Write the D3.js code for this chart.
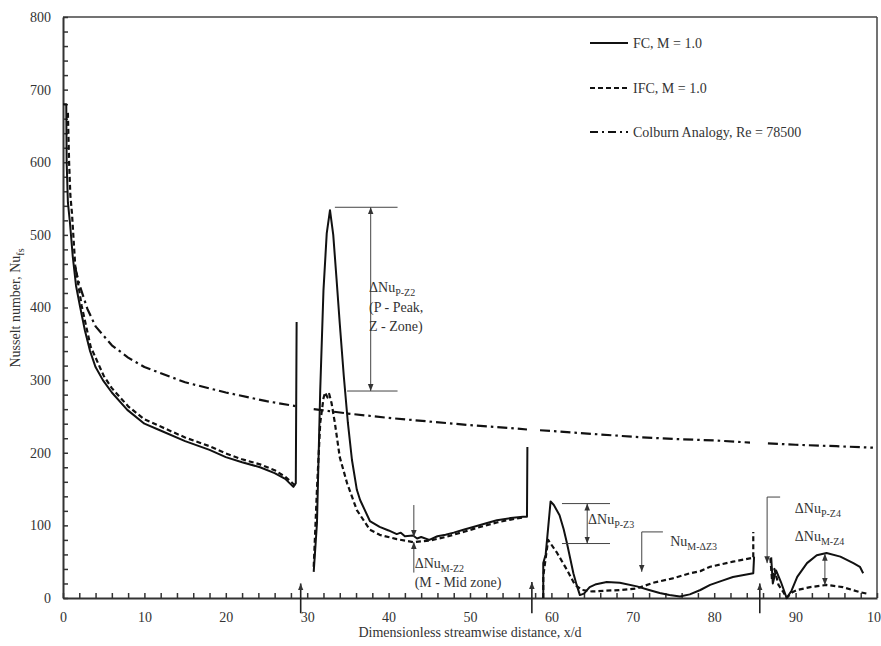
<!DOCTYPE html>
<html><head><meta charset="utf-8">
<script src="https://cdn.jsdelivr.net/npm/d3@7"></script>
<style>
body{margin:0;background:#fff}
svg{display:block}
text{font-family:"Liberation Serif","Times New Roman",serif;fill:#333}
</style>
</head><body>
<svg id="c" width="881" height="646" font-family="Liberation Serif"></svg>
<script>
// ---- data (x/d, Nu) ; null = gap between zones ----
const fcX = [0,0.4,0.45,0.6,0.86,1.2,1.6,2.1,2.7,3.3,4.0,4.9,6,7.9,10,11.9,15,18,20,22,24.2,26,27.3,28.3,28.6,28.7,
  null,
  30.8,31.2,31.6,32.0,32.4,32.8,33.2,33.6,34.0,34.5,35,35.5,36.1,36.5,37.7,38.9,40,41,41.5,42,43,43.5,44,45,46,47,48,49.2,50.5,52,53.3,55,56.5,57,57.05,
  null,
  59,59,59.3,59.9,60.3,61,61.5,61.9,62.3,62.7,63.1,63.5,64,64.7,65.5,66.8,68.4,70.5,72,73.3,74.5,75.8,77,78.3,79.5,81,82.3,84.8,84.9,
  null,
  87,87.2,87.6,88.2,88.9,89.5,90.2,91.4,92.6,93.8,95.5,97.1,97.9,98.3];
const fcY = [680,680,600,545,516,470,430,401,368,341,318,300,283,259,240,231,216,204,194,187,180,172,164,153,158,380,
  null,
  36,103,286,424,502,534,500,440,378,305,241,190,149,135,106,98,93,88,90,85,86,82,84,80,85,87,90,94,98,103,107,110,112,112,208,
  null,
  0,48,60,133,128,114,95,76,55,34,18,4,6,15,19,22,21,16,11,7,4,2,5,11,18,24,29,34,57,
  null,
  56,20,38,22,0,10,29,48,59,62,57,48,43,34];

const ifcX = [0.6,0.75,0.9,1.1,1.5,2.3,3.4,5,6,8,10,12,15,18,20,22,24.2,26,27.3,28.3,28.7,
  null,
  30.8,31.2,31.6,32.0,32.2,32.5,32.7,33.0,33.4,34,34.9,36.1,37.7,38.9,41,43,45,47,49.2,51,53.3,55,56.5,
  null,
  59,59,59.6,60.7,61.9,62.9,63.8,65,68.4,70.5,72.5,74.9,77,78.3,79.5,82.3,84.6,84.8,84.8,
  null,
  86.9,87.1,87.4,87.9,88.5,88.9,89.6,90.2,91.8,93.8,95.8,97.9,98.8];
const ifcY = [668,600,555,530,458,402,346,306,289,264,246,236,221,209,199,191,184,176,167,157,155,
  null,
  43,150,241,275,283,276,281,268,241,194,158,121,94,87,81,77,79,84,91,97,104,108,111,
  null,
  0,30,80,62,39,18,11,9,11,13,21,27,34,37,43,50,55,55,91,
  null,
  55,25,40,18,8,0,8,11,15,18,15,8,6];

const colX = [1.5,2,3,4,6,8,10,15,20,25,28.7, null, 30.8,35,40,45,50,55,57, null, 58.6,60,65,70,75,80,84.4, null, 86.6,90,95,99.5];
const colY = [455,432,398,374,348,331,318,297,283,271,264, null, 260,254,248,243,238,234,232, null, 231,230,226,222,219,217,214, null, 213,211,209,207];

const seriesNames = ["FC, M = 1.0", "IFC, M = 1.0", "Colburn Analogy, Re = 78500"];
const xTicks = d3.range(0, 101, 2);
const yTicks = d3.range(0, 801, 20);

// annotation geometry in data units
const plainLines = [[33.4,538,41.1,538],[34.9,285,41.1,285],[61.3,130,67.2,130],[61.3,75,67.2,75],[71.1,91,73.7,91],[86.5,139,88.1,139]];
const singleArrows = [[43.1,128,43.1,84],[43.1,35,43.1,77],[71.1,91,71.1,36],[86.5,139,86.5,48],
  [29.2,-21,29.2,20],[57.6,-21,57.6,22],[85.6,-21,85.6,20]];
const doubleArrows = [[37.8,538,37.8,285],[64.4,130,64.4,75],[93.6,61,93.6,18]];
const labels = [
  {x:37.6,y:421,main:"\u0394Nu",sub:"P-Z2"},
  {x:37.6,y:394,main:"(P - Peak,",sub:""},
  {x:37.6,y:368,main:"Z - Zone)",sub:""},
  {x:43.2,y:41,main:"\u0394Nu",sub:"M-Z2"},
  {x:43.2,y:15,main:"(M - Mid zone)",sub:""},
  {x:64.5,y:102,main:"\u0394Nu",sub:"P-Z3"},
  {x:74.6,y:71,main:"Nu",sub:"M-\u0394Z3"},
  {x:89.9,y:117,main:"\u0394Nu",sub:"P-Z4"},
  {x:89.9,y:78,main:"\u0394Nu",sub:"M-Z4"}
];

// ---- drawing ----
const svg = d3.select("#c");
const x = d3.scaleLinear().domain([0,100]).range([63,877]);
const y = d3.scaleLinear().domain([0,800]).range([598,17]);

const defs = svg.append("defs");
defs.append("marker").attr("id","ah").attr("viewBox","0 0 10 10").attr("refX",10).attr("refY",5)
  .attr("markerWidth",7).attr("markerHeight",7).attr("markerUnits","userSpaceOnUse").attr("orient","auto-start-reverse")
  .append("path").attr("d","M0,1 L10,5 L0,9 z").attr("fill","#333");

// frame
svg.append("line").attr("x1",x(0)).attr("x2",x(100)).attr("y1",y(800)).attr("y2",y(800)).attr("stroke","#444").attr("stroke-width",1.5);
svg.append("line").attr("x1",x(100)).attr("x2",x(100)).attr("y1",y(800)).attr("y2",y(0)).attr("stroke","#444").attr("stroke-width",1.5);

const yAxis = d3.axisLeft(y).tickValues(yTicks).tickSizeInner(-5).tickSizeOuter(0).tickPadding(12)
  .tickFormat(d => d % 100 === 0 ? d : "");
const gy = svg.append("g").attr("transform",`translate(${x(0)},0)`).call(yAxis);
const xAxis = d3.axisBottom(x).tickValues(xTicks).tickSizeInner(-5).tickSizeOuter(0).tickPadding(14)
  .tickFormat(d => d % 10 === 0 ? d : "");
const gx = svg.append("g").attr("transform",`translate(0,${y(0)})`).call(xAxis);
[gx, gy].forEach(g => {
  g.attr("font-family","Liberation Serif").attr("font-size",14);
  g.select(".domain").attr("stroke","#333").attr("stroke-width",2);
  g.selectAll(".tick line").attr("stroke","#333").attr("stroke-width",1.5);
  g.selectAll(".tick text").attr("font-size",14).attr("fill","#444");
});

// series
function pts(xs, ys){ return xs.map((v,i)=>[v, ys[i]]); }
const line = d3.line().defined(d => d[0] !== null && d[1] !== null).x(d => x(d[0])).y(d => y(d[1]));
const styles = [
  {data: pts(colX,colY), dash:"10,4,2.5,4", w:2.2},
  {data: pts(ifcX,ifcY), dash:"5,3", w:2.2},
  {data: pts(fcX,fcY), dash:null, w:2}
];
styles.forEach(s => {
  svg.append("path").datum(s.data).attr("d", line).attr("fill","none").attr("stroke","#111")
    .attr("stroke-width", s.w).attr("stroke-dasharray", s.dash).attr("stroke-linejoin","round");
});

// annotations
const ann = svg.append("g").attr("stroke","#444").attr("stroke-width",1);
plainLines.forEach(l => ann.append("line").attr("x1",x(l[0])).attr("y1",y(l[1])).attr("x2",x(l[2])).attr("y2",y(l[3])));
singleArrows.forEach((l,i) => ann.append("line").attr("x1",x(l[0])).attr("y1",y(l[1])).attr("x2",x(l[2])).attr("y2",y(l[3]))
  .attr("stroke-width", i>=4 ? 1.6 : 1).attr("stroke", i>=4 ? "#222" : "#444").attr("marker-end","url(#ah)"));
doubleArrows.forEach(l => ann.append("line").attr("x1",x(l[0])).attr("y1",y(l[1])).attr("x2",x(l[2])).attr("y2",y(l[3]))
  .attr("marker-start","url(#ah)").attr("marker-end","url(#ah)"));

labels.forEach(d => {
  const t = svg.append("text").attr("x", x(d.x)).attr("y", y(d.y)).attr("font-size",14);
  t.append("tspan").text(d.main);
  if (d.sub) t.append("tspan").attr("font-size",10).attr("dy",4).text(d.sub);
});

// legend
const legY = [43, 88, 132];
const legDash = [null, "5,3", "8,4,2,4"];
seriesNames.forEach((n,i) => {
  svg.append("line").attr("x1",590).attr("x2",628).attr("y1",legY[i]).attr("y2",legY[i])
    .attr("stroke","#111").attr("stroke-width",2).attr("stroke-dasharray",legDash[i]);
  svg.append("text").attr("x",633).attr("y",legY[i]+5).attr("font-size",14).text(n);
});

// axis titles
svg.append("text").attr("x",470).attr("y",637).attr("text-anchor","middle").attr("font-size",14)
  .text("Dimensionless streamwise distance, x/d");
const yt = svg.append("text").attr("transform","translate(20,308) rotate(-90)").attr("text-anchor","middle").attr("font-size",14);
yt.append("tspan").text("Nusselt number, Nu");
yt.append("tspan").attr("font-size",10).attr("dy",4).text("fs");
</script>
</body></html>
